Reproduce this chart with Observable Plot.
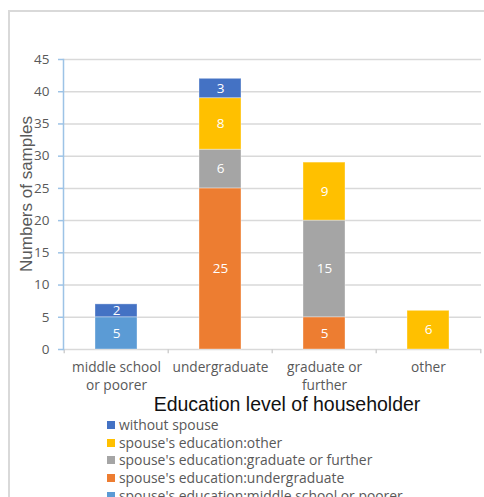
<!DOCTYPE html>
<html>
<head>
<meta charset="utf-8">
<script src="https://cdn.jsdelivr.net/npm/d3@7"></script>
<script src="https://cdn.jsdelivr.net/npm/@observablehq/plot@0.6"></script>
<style>
  html, body { margin: 0; padding: 0; background: #fff; overflow: hidden; }
  body { width: 484px; height: 497px; position: relative; font-family: "Open Sans", "Liberation Sans", Arial, sans-serif; }
  #box { position: absolute; left: 8px; top: 10px; width: 500px; height: 520px; border: 2px solid #d9d9d9; box-sizing: border-box; }
  #chart { position: absolute; left: 0; top: 0; }
  #ylabel { position: absolute; left: 27px; top: 194px; transform: translate(-50%, -50%) rotate(-90deg); font-family: "Liberation Sans", Arial, sans-serif; font-size: 17px; color: #595959; white-space: nowrap; }
  #xlabel { position: absolute; left: 287px; top: 404px; transform: translate(-50%, -50%); font-family: "Liberation Sans", Arial, sans-serif; font-size: 19.5px; color: #111; white-space: nowrap; }
  #legend { position: absolute; left: 107px; top: 416px; font-size: 13.9px; color: #595959; }
  .row { height: 17.7px; line-height: 17.7px; white-space: nowrap; display: flex; align-items: center; }
  .sw { width: 8px; height: 8px; margin-right: 4px; flex: none; }
</style>
</head>
<body>
<div id="box"></div>
<div id="chart"></div>
<div id="ylabel">Numbers of samples</div>
<div id="xlabel">Education level of householder</div>
<div id="legend"></div>
<script>
// Householder education categories
const categories = ["middle school\nor poorer", "undergraduate", "graduate or\nfurther", "other"];

// Series, listed bottom-to-top in the stack
const seriesNames = [
  "spouse's education:middle school or poorer",
  "spouse's education:undergraduate",
  "spouse's education:graduate or further",
  "spouse's education:other",
  "without spouse"
];
const seriesColors = ["#5B9BD5", "#ED7D31", "#A5A5A5", "#FFC000", "#4472C4"];

// Counts per category for each series
const spouseMiddle    = [5, 0, 0, 0];
const spouseUndergrad = [0, 25, 5, 0];
const spouseGraduate  = [0, 6, 15, 0];
const spouseOther     = [0, 8, 9, 6];
const withoutSpouse   = [2, 3, 0, 0];

const yTicks = [0, 5, 10, 15, 20, 25, 30, 35, 40, 45];

const seriesValues = [spouseMiddle, spouseUndergrad, spouseGraduate, spouseOther, withoutSpouse];
const rows = [];
seriesNames.forEach((s, i) => {
  categories.forEach((c, j) => {
    const v = seriesValues[i][j];
    if (v > 0) rows.push({category: c, series: s, value: v});
  });
});

const width = 484, height = 400;
const marginLeft = 63, marginRight = 3, marginTop = 59, marginBottom = 51;
const bandWidth = (width - marginLeft - marginRight) / categories.length;
const barInset = 31;

const stackOpts = {x: "category", y: "value", z: "series", order: seriesNames};

const chart = Plot.plot({
  width, height, marginLeft, marginRight, marginTop, marginBottom,
  style: {fontFamily: "'Open Sans', 'Liberation Sans', Arial, sans-serif", background: "transparent", overflow: "visible"},
  x: {domain: categories, padding: 0, label: null},
  y: {domain: [0, 45], label: null},
  color: {domain: seriesNames, range: seriesColors},
  marks: [
    Plot.gridY(yTicks, {stroke: "#d9d9d9", strokeWidth: 1.5, strokeOpacity: 1}),
    // category boundary ticks on the baseline
    Plot.ruleX(categories, {x: d => d, dx: -bandWidth / 2, y1: 0, y2: -0.65, stroke: "#d0d0d0", strokeWidth: 1.5}),
    Plot.ruleX([categories[categories.length - 1]], {x: d => d, dx: bandWidth / 2, y1: 0, y2: -0.65, stroke: "#d0d0d0", strokeWidth: 1.5}),
    Plot.barY(rows, {...stackOpts, fill: "series", insetLeft: barInset, insetRight: barInset, stroke: "#fff", strokeOpacity: 0.35, strokeWidth: 1}),
    Plot.text(rows, Plot.stackY({...stackOpts, text: d => String(d.value), fill: "white", fontSize: 13.5})),
    Plot.axisY(yTicks, {tickSize: 5, tickPadding: 9, stroke: "#9dc3e6", strokeWidth: 1.5, fill: "#595959", fontSize: 13.5, label: null}),
    Plot.frame({anchor: "left", stroke: "#9dc3e6", strokeWidth: 1.5}),
    Plot.axisX({tickSize: 0, tickPadding: 10, fill: "#595959", fontSize: 13.7, lineHeight: 1.3, label: null})
  ]
});
document.getElementById("chart").appendChild(chart);

// Legend, listed top-to-bottom in reverse stack order
const legend = document.getElementById("legend");
for (let i = seriesNames.length - 1; i >= 0; i--) {
  const row = document.createElement("div");
  row.className = "row";
  const sw = document.createElement("span");
  sw.className = "sw";
  sw.style.background = seriesColors[i];
  const label = document.createElement("span");
  label.textContent = seriesNames[i];
  row.appendChild(sw);
  row.appendChild(label);
  legend.appendChild(row);
}
</script>
</body>
</html>
